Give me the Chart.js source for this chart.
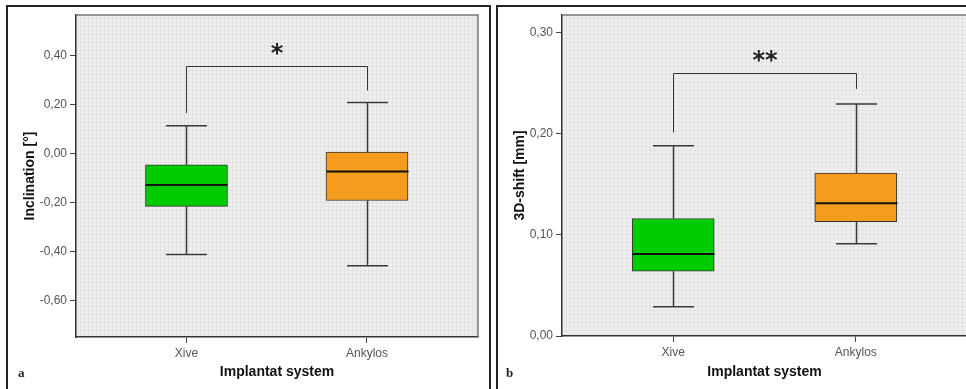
<!DOCTYPE html>
<html>
<head>
<meta charset="utf-8">
<script src="https://cdn.jsdelivr.net/npm/chart.js@4"></script>
<style>
  body { margin: 0; width: 966px; height: 389px; overflow: hidden; background: #fff; position: relative; }
  .frame { position: absolute; top: 5px; height: 400px; border-top: 2px solid #222; border-left: 2px solid #222; }
  #fa { left: 6px; width: 481px; border-right: 2px solid #222; }
  #fb { left: 496px; width: 520px; }
  canvas { position: absolute; }
  .tag { position: absolute; top: 365px; font: bold 13px "Liberation Serif", serif; color: #222; }
</style>
</head>
<body>
<div class="frame" id="fa"></div>
<div class="frame" id="fb"></div>
<canvas id="ca" width="480" height="383" style="left:8px;top:6px"></canvas>
<canvas id="cb" width="480" height="383" style="left:498px;top:6px"></canvas>
<div class="tag" style="left:18px">a</div>
<div class="tag" style="left:506px">b</div>
<script>
const categories = ['Xive', 'Ankylos'];

// panel a: inclination
const inclMin = [-0.411, -0.457];
const inclQ1 = [-0.215, -0.191];
const inclMedian = [-0.128, -0.073];
const inclQ3 = [-0.045, 0.007];
const inclMax = [0.114, 0.209];
const inclTicks = [-0.6, -0.4, -0.2, 0, 0.2, 0.4];
const inclBracket = [0.166, 0.356, 0.258]; // left end, bar, right end
const inclStars = '*';

// panel b: 3D shift
const shiftMin = [0.029, 0.091];
const shiftQ1 = [0.064, 0.113];
const shiftMedian = [0.081, 0.131];
const shiftQ3 = [0.116, 0.161];
const shiftMax = [0.188, 0.229];
const shiftTicks = [0, 0.1, 0.2, 0.3];
const shiftBracket = [0.201, 0.260, 0.244];
const shiftStars = '**';

const boxColors = ['#00cc00', '#f59b1e'];
const fmt = v => (Math.abs(v) < 1e-9 ? 0 : v).toFixed(2).replace('.', ',');

function bgPattern(ctx) {
  const c = document.createElement('canvas');
  c.width = 4; c.height = 4;
  const p = c.getContext('2d');
  p.fillStyle = '#efefef';
  p.fillRect(0, 0, 4, 4);
  p.fillStyle = '#e2e2e2';
  p.fillRect(0, 0, 4, 1);
  p.fillRect(0, 0, 1, 4);
  return ctx.createPattern(c, 'repeat');
}

function boxExtras(mins, medians, maxs, bracket, stars) {
  return {
    id: 'boxExtras',
    beforeDraw(chart) {
      const { ctx, chartArea: a } = chart;
      ctx.save();
      ctx.fillStyle = bgPattern(ctx);
      ctx.fillRect(a.left, a.top, a.width, a.height);
      ctx.restore();
    },
    afterDatasetsDraw(chart) {
      const { ctx } = chart;
      const x = chart.scales.x, y = chart.scales.y;
      const q1 = chart.data.datasets[0].data.map(d => d.y[0]);
      const q3 = chart.data.datasets[0].data.map(d => d.y[1]);
      ctx.save();
      categories.forEach((c, i) => {
        const cx = Math.round(x.getPixelForValue(i + 1)) + 0.5;
        ctx.strokeStyle = '#3a3a3a';
        ctx.lineWidth = 1.5;
        ctx.beginPath();
        ctx.moveTo(cx, y.getPixelForValue(maxs[i]));
        ctx.lineTo(cx, y.getPixelForValue(q3[i]));
        ctx.moveTo(cx, y.getPixelForValue(q1[i]));
        ctx.lineTo(cx, y.getPixelForValue(mins[i]));
        ctx.moveTo(cx - 20.5, y.getPixelForValue(maxs[i]));
        ctx.lineTo(cx + 20.5, y.getPixelForValue(maxs[i]));
        ctx.moveTo(cx - 20.5, y.getPixelForValue(mins[i]));
        ctx.lineTo(cx + 20.5, y.getPixelForValue(mins[i]));
        ctx.stroke();
        ctx.strokeStyle = '#111';
        ctx.lineWidth = 2;
        ctx.beginPath();
        ctx.moveTo(cx - 41, y.getPixelForValue(medians[i]));
        ctx.lineTo(cx + 41, y.getPixelForValue(medians[i]));
        ctx.stroke();
      });
      // significance bracket
      const x1 = Math.round(x.getPixelForValue(1)) + 0.5;
      const x2 = Math.round(x.getPixelForValue(2)) + 0.5;
      const yb = Math.round(y.getPixelForValue(bracket[1])) + 0.5;
      ctx.strokeStyle = '#333';
      ctx.lineWidth = 1;
      ctx.beginPath();
      ctx.moveTo(x1, y.getPixelForValue(bracket[0]));
      ctx.lineTo(x1, yb);
      ctx.lineTo(x2, yb);
      ctx.lineTo(x2, y.getPixelForValue(bracket[2]));
      ctx.stroke();
      ctx.fillStyle = '#222';
      ctx.font = 'bold 24px "DejaVu Sans", sans-serif';
      ctx.textAlign = 'center';
      ctx.textBaseline = 'middle';
      ctx.fillText(stars, (x1 + x2) / 2, yb - 12);
      ctx.restore();
    },
    afterDraw(chart) {
      const { ctx, chartArea: a } = chart;
      ctx.save();
      ctx.strokeStyle = '#777';
      ctx.lineWidth = 1.5;
      ctx.beginPath();
      ctx.moveTo(a.left, a.top);
      ctx.lineTo(a.right, a.top);
      ctx.lineTo(a.right, a.bottom);
      ctx.stroke();
      ctx.restore();
    }
  };
}

function makeChart(id, opt) {
  const tickFont = { family: '"Liberation Sans", Arial, sans-serif', size: 12 };
  const titleFont = { family: '"Liberation Sans", Arial, sans-serif', size: 14, weight: 'bold' };
  return new Chart(document.getElementById(id), {
    type: 'bar',
    data: {
      datasets: [{
        data: categories.map((c, i) => ({ x: i + 1, y: [opt.q1[i], opt.q3[i]] })),
        backgroundColor: boxColors,
        borderColor: '#333',
        borderWidth: 1,
        borderSkipped: false,
        barThickness: 82
      }]
    },
    options: {
      responsive: false,
      animation: false,
      layout: { padding: { top: 9, right: opt.right, left: 0, bottom: 0 } },
      plugins: { legend: { display: false }, tooltip: { enabled: false } },
      scales: {
        x: {
          type: 'linear',
          offset: false,
          min: opt.xMin,
          max: opt.xMax,
          afterBuildTicks: s => { s.ticks = categories.map((c, i) => ({ value: i + 1 })); },
          afterFit: s => { s.height = opt.xHeight; s.paddingLeft = 0; s.paddingRight = 0; },
          ticks: { callback: v => categories[v - 1], font: tickFont, color: '#555', padding: 3, maxRotation: 0 },
          grid: { offset: false, drawOnChartArea: false, drawTicks: true, tickLength: 6, color: '#444' },
          border: { display: true, color: '#333', width: 1.5 },
          title: { display: true, text: 'Implantat system', font: titleFont, color: '#111', padding: { top: 0, bottom: 8 } }
        },
        y: {
          min: opt.yMin,
          max: opt.yMax,
          afterBuildTicks: s => { s.ticks = opt.ticks.map(v => ({ value: v })); },
          afterFit: s => { s.width = opt.yWidth; s.paddingTop = 0; s.paddingBottom = 0; },
          ticks: { callback: v => fmt(v), font: tickFont, color: '#555', padding: 3 },
          grid: { drawOnChartArea: false, drawTicks: true, tickLength: 6, color: '#444' },
          border: { display: true, color: '#333', width: 1.5 },
          title: { display: true, text: opt.yTitle, font: titleFont, color: '#111', padding: { top: 14, bottom: 0 } }
        }
      }
    },
    plugins: [boxExtras(opt.min, opt.median, opt.max, opt.bracket, opt.stars)]
  });
}

makeChart('ca', {
  q1: inclQ1, q3: inclQ3, min: inclMin, max: inclMax, median: inclMedian,
  ticks: inclTicks, bracket: inclBracket, stars: inclStars,
  yMin: -0.748, yMax: 0.566, xMin: 0.388, xMax: 2.615,
  yWidth: 68, xHeight: 52, right: 10, yTitle: 'Inclination [°]'
});

makeChart('cb', {
  q1: shiftQ1, q3: shiftQ3, min: shiftMin, max: shiftMax, median: shiftMedian,
  ticks: shiftTicks, bracket: shiftBracket, stars: shiftStars,
  yMin: 0, yMax: 0.317, xMin: 0.391, xMax: 2.609,
  yWidth: 64, xHeight: 53, right: 11, yTitle: '3D-shift [mm]'
});
</script>
</body>
</html>
